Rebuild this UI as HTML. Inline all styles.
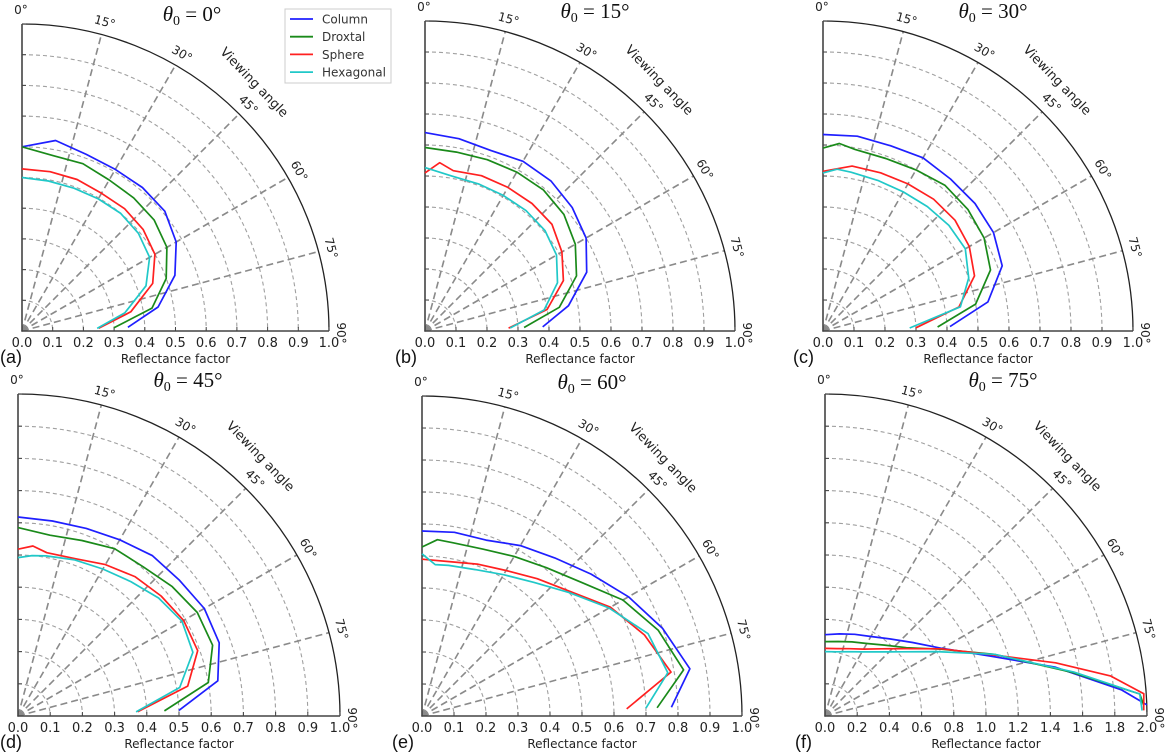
<!DOCTYPE html>
<html><head><meta charset="utf-8">
<style>
html,body{margin:0;padding:0;background:#fff;}
svg{display:block;font-family:"Liberation Sans",sans-serif;}
</style></head>
<body>
<svg id="chart" width="1173" height="756" viewBox="0 0 1173 756" xmlns="http://www.w3.org/2000/svg"></svg>
<script>
// ---------- data (angle in degrees, reflectance factor) ----------
const seriesNames = ["Column","Droxtal","Sphere","Hexagonal"];
const seriesColors = ["#1f1fff","#1a8a1a","#ff2020","#20c8c8"];
const panelTitles = ["0°","15°","30°","45°","60°","75°"];
const panelLetters = ["(a)","(b)","(c)","(d)","(e)","(f)"];
const tickLabels1 = ["0.0","0.1","0.2","0.3","0.4","0.5","0.6","0.7","0.8","0.9","1.0"];
const tickLabels2 = ["0.0","0.2","0.4","0.6","0.8","1.0","1.2","1.4","1.6","1.8","2.0"];
const angleLabels = [0,15,30,45,60,75,90];

const A10 = [0,10,20,30,40,50,60,70,80,88];
// panel a
const aAng = [A10,A10,A10,A10];
const aVal = [
 [0.60,0.63,0.612,0.608,0.61,0.607,0.58,0.53,0.45,0.345],
 [0.60,0.58,0.58,0.568,0.566,0.562,0.545,0.50,0.43,0.30],
 [0.528,0.527,0.525,0.518,0.52,0.515,0.50,0.453,0.36,0.25],
 [0.50,0.496,0.495,0.497,0.50,0.495,0.48,0.43,0.34,0.245]];
// panel b
const bAng = [A10,A10,[0,5,10,20,30,40,50,60,70,80,88],A10];
const bVal = [
 [0.64,0.63,0.62,0.632,0.632,0.62,0.60,0.555,0.47,0.38],
 [0.592,0.586,0.588,0.592,0.594,0.585,0.56,0.52,0.44,0.32],
 [0.51,0.545,0.525,0.533,0.535,0.537,0.535,0.51,0.475,0.40,0.27],
 [0.527,0.507,0.505,0.505,0.507,0.505,0.49,0.455,0.39,0.275]];
// panel c
const cAng = [A10,[0,5,10,20,30,40,50,60,70,80,88],[0,10,20,30,40,50,60,70,80,88],[0,5,10,20,30,40,50,60,70,80,88]];
const cVal = [
 [0.634,0.638,0.636,0.645,0.64,0.64,0.635,0.615,0.54,0.41],
 [0.59,0.607,0.595,0.592,0.60,0.613,0.61,0.60,0.575,0.50,0.37],
 [0.515,0.54,0.543,0.548,0.555,0.556,0.545,0.52,0.445,0.30],
 [0.51,0.524,0.52,0.517,0.518,0.524,0.53,0.53,0.50,0.45,0.28]];
// panel d
const A11 = [0,5,10,20,30,40,50,60,70,80,88];
const dAng = [A10,A10,A11,A11];
const dVal = [
 [0.618,0.615,0.62,0.632,0.65,0.655,0.668,0.665,0.63,0.50],
 [0.585,0.57,0.58,0.60,0.605,0.625,0.643,0.643,0.60,0.455],
 [0.518,0.53,0.515,0.52,0.543,0.565,0.58,0.594,0.594,0.535,0.372],
 [0.492,0.50,0.505,0.516,0.527,0.545,0.57,0.588,0.578,0.51,0.367]];
// panel e
const eAng = [A10,A11,A10,A11];
const eVal = [
 [0.578,0.583,0.585,0.615,0.645,0.69,0.745,0.80,0.85,0.78],
 [0.528,0.553,0.55,0.555,0.576,0.605,0.65,0.725,0.785,0.83,0.735],
 [0.49,0.49,0.505,0.525,0.56,0.605,0.68,0.74,0.79,0.64],
 [0.507,0.475,0.478,0.487,0.51,0.545,0.60,0.675,0.752,0.78,0.70]];
// panel f
const fAng = [[0,10,20,30,40,50,60,70,78,85,88],[0,10,20,30,40,50,60,70,80,86,88],[0,10,20,30,40,50,60,70,77,82,86,89],[0,10,20,30,40,50,60,70,80,86,89]];
const fVal = [
 [0.505,0.518,0.54,0.57,0.625,0.71,0.84,1.09,1.46,1.85,2.0],
 [0.462,0.47,0.49,0.52,0.575,0.66,0.83,1.12,1.56,1.96,1.98],
 [0.42,0.425,0.445,0.48,0.545,0.65,0.835,1.11,1.47,1.79,1.985,1.98],
 [0.40,0.405,0.425,0.46,0.52,0.62,0.80,1.12,1.57,1.96,1.97]];

const allAng = [aAng,bAng,cAng,dAng,eAng,fAng];
const allVal = [aVal,bVal,cVal,dVal,eVal,fVal];

// ---------- layout ----------
const panels = [
 {ox:22, oy:331, R:307, rmax:1},
 {ox:425,oy:331, R:310, rmax:1},
 {ox:823,oy:331, R:310, rmax:1},
 {ox:18, oy:716, R:322, rmax:1},
 {ox:422,oy:716, R:320, rmax:1},
 {ox:825,oy:716, R:322, rmax:2}
];
const NS="http://www.w3.org/2000/svg";
const svg=document.getElementById('chart');
const AXF='"DejaVu Sans","Liberation Sans",sans-serif';
function mk(tag,attrs,parent){const e=document.createElementNS(NS,tag);for(const k in attrs)e.setAttribute(k,attrs[k]);(parent||svg).appendChild(e);return e;}
function rad(d){return d*Math.PI/180;}

panels.forEach((p,pi)=>{
  const g=mk('g',{});
  
  
  const px=(deg,r)=>p.ox+p.R*(r/p.rmax)*Math.sin(rad(deg));
  const py=(deg,r)=>p.oy-p.R*(r/p.rmax)*Math.cos(rad(deg));
  for(let i=1;i<10;i++){
    const rr=p.R*i/10;
    const c=mk('path',{d:`M${p.ox} ${p.oy-rr} A${rr} ${rr} 0 0 1 ${p.ox+rr} ${p.oy}`,fill:'none',stroke:'#a0a0a0','stroke-width':1.1,'stroke-dasharray':'4,3'},g);
    
    
  }
  [15,30,45,60,75].forEach(a=>{
    const l=mk('line',{x1:p.ox,y1:p.oy,x2:px(a,p.rmax),y2:py(a,p.rmax),stroke:'#8a8a8a','stroke-width':1.6,'stroke-dasharray':'7,4'},g);
    
    
  });
  const arc=mk('path',{d:`M${p.ox} ${p.oy-p.R} A${p.R} ${p.R} 0 0 1 ${p.ox+p.R} ${p.oy}`,fill:'none',stroke:'#222','stroke-width':1.3},g);
  
  
  const ax=mk('path',{d:`M${p.ox} ${p.oy-p.R} L${p.ox} ${p.oy} L${p.ox+p.R} ${p.oy}`,fill:'none',stroke:'#444','stroke-width':1.6},g);
  
  
  const labels = p.rmax===2?tickLabels2:tickLabels1;
  for(let i=0;i<=10;i++){
    const d=p.R*i/10;
    mk('line',{x1:p.ox+d,y1:p.oy,x2:p.ox+d,y2:p.oy-4,stroke:'#444','stroke-width':1},g);
    mk('line',{x1:p.ox,y1:p.oy-d,x2:p.ox+4,y2:p.oy-d,stroke:'#444','stroke-width':1},g);
    const t=mk('text',{x:p.ox+d,y:p.oy+16,'font-size':13,'text-anchor':'middle',fill:'#222','font-family':AXF},g);
    t.textContent=labels[i];
    
    
  }
  const xt=mk('text',{x:p.ox+p.R/2,y:p.oy+32,'font-size':12,'text-anchor':'middle',fill:'#222','font-family':AXF},g);
  xt.textContent='Reflectance factor';
  
  
  const lt=mk('text',{x:pi%3===0?0:p.ox-30,y:p.oy+32,'font-size':18,fill:'#111'},g);
  lt.textContent=panelLetters[pi];
  
  
  angleLabels.forEach(a=>{
    let t;
    if(a===0){
      t=mk('text',{x:p.ox-1,y:p.oy-p.R-10,'font-size':12,'text-anchor':'middle',fill:'#222','font-family':AXF},g);
    } else if(a===90){
      t=mk('text',{x:0,y:0,'font-size':12,'text-anchor':'middle',fill:'#222','font-family':AXF,transform:`translate(${p.ox+p.R+8},${p.oy+2}) rotate(90)`},g);
    } else {
      const rr=p.R+9;
      const x=p.ox+rr*Math.sin(rad(a)), y=p.oy-rr*Math.cos(rad(a));
      t=mk('text',{x:0,y:0,'font-size':12,'text-anchor':'middle',fill:'#222','font-family':AXF,transform:`translate(${x},${y}) rotate(${a})`},g);
    }
    t.textContent=a+'°';
    
    
  });
  {
    const rr=p.R+29, a=43;
    const x=p.ox+rr*Math.sin(rad(a)), y=p.oy-rr*Math.cos(rad(a));
    const t=mk('text',{x:0,y:0,'font-size':13,'text-anchor':'middle',fill:'#222','font-family':AXF,transform:`translate(${x},${y}) rotate(${a+3})`},g);
    t.textContent='Viewing angle';
    
    
  }
  {
    const tx = pi===5? p.ox+178 : p.ox+170;
    const ty = pi<3? p.oy-p.R-3 : p.oy-p.R-7;
    const t=mk('text',{x:tx,y:ty,'font-size':21,'text-anchor':'middle',fill:'#111','font-family':'"Liberation Serif",serif'},g);
    t.innerHTML='<tspan font-style="italic">θ</tspan><tspan font-size="14" dy="4">0</tspan><tspan dy="-4"> = '+panelTitles[pi]+'</tspan>';
    
    
  }
  for(let s=0;s<4;s++){
    const angs=allAng[pi][s], vals=allVal[pi][s];
    const d=angs.map((a,i)=>(i?'L':'M')+px(a,vals[i]).toFixed(1)+' '+py(a,vals[i]).toFixed(1)).join(' ');
    const l=mk('path',{d:d,fill:'none',stroke:seriesColors[s],'stroke-width':1.7,'stroke-linejoin':'round'},g);
    
    
  }
});

const lg=mk('g',{});


mk('rect',{x:285,y:9,width:106,height:74,fill:'#fff',stroke:'#ccc','stroke-width':1},lg);
seriesNames.forEach((n,i)=>{
  const y=19+i*17.7;
  const e=mk('g',{},lg);
  
  
  mk('line',{x1:290,y1:y,x2:313,y2:y,stroke:seriesColors[i],'stroke-width':1.8},e);
  const t=mk('text',{x:322,y:y+4.5,'font-size':12,fill:'#333','font-family':AXF},e);
  t.textContent=n;
});
</script>
</body></html>
